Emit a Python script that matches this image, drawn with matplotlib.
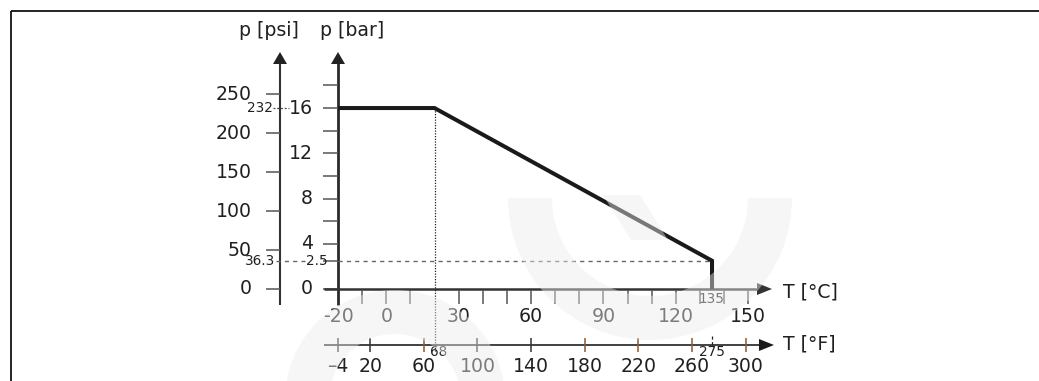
import matplotlib
matplotlib.use("Agg")
import matplotlib.pyplot as plt
from matplotlib.patches import Polygon, Wedge
from matplotlib.transforms import Affine2D

# chart data
curve_c = [-20, 20, 135, 135]
curve_bar = [16, 16, 2.5, 0]
bar_ticks = [0, 2.5, 4, 6, 8, 10, 12, 14, 16, 18]
bar_labels = [0, 4, 8, 12, 16]
psi_ticks = [0, 50, 100, 150, 200, 250]
c_ticks = [-10, 0, 10, 30, 40, 50, 60, 70, 80, 90, 100, 110, 120, 130, 140, 150]
c_labels = [-20, 0, 30, 60, 90, 120, 150]
f_ticks = [-4, 20, 60, 100, 140, 180, 220, 260, 300]
f_brown = [60, 180, 220, 260, 300]
knee_c, knee_f = 20, 68
max_c, max_f = 135, 275
max_bar, max_psi = 16, 232
min_bar, min_psi = 2.5, 36.3
PSI_PER_BAR = 14.5038

W, H = 1039, 381
PX_PER_C = 2.413
PX_PER_BAR = 11.31
C0_PX, BAR0_PY = 338, 289

TXT = "#231f20"
GRID = "#555555"
BROWN = "#8c5a32"
BIG, SMALL = 13.6, 9.8


def cx(px):
    return -20 + (px - C0_PX) / PX_PER_C


def by(py):
    return (BAR0_PY - py) / PX_PER_BAR


def f2c(f):
    return (f - 32) / 1.8


fig = plt.figure(figsize=(W / 100, H / 100), dpi=100)
ax = fig.add_axes([0, 0, 1, 1])
ax.set_xlim(cx(0), cx(W))
ax.set_ylim(by(H), by(0))
ax.axis("off")
plt.rcParams["font.family"] = "DejaVu Sans"


def hline(y, x0, x1, **kw):
    ax.plot([x0, x1], [y, y], solid_capstyle="butt", **kw)


def vline(x, y0, y1, **kw):
    ax.plot([x, x], [y0, y1], solid_capstyle="butt", **kw)


def tri(points, color):
    ax.add_patch(Polygon([(cx(a), by(b)) for a, b in points], closed=True,
                         facecolor=color, edgecolor="none", zorder=4))


# frame
hline(by(11), cx(11), cx(W), color="black", lw=1.2)
vline(cx(11), by(11), by(H), color="black", lw=1.2)

# psi axis
vline(cx(280), by(305), by(60), color="#333333", lw=1.5)
tri([(280, 52), (273, 64), (287, 64)], "#222222")
for p in psi_ticks:
    hline(p / PSI_PER_BAR, cx(266), cx(280), color=GRID, lw=1.1)
    ax.text(cx(252), p / PSI_PER_BAR, str(p), ha="right", va="center",
            fontsize=BIG, color=TXT)
ax.text(cx(299), by(31), "p [psi]", ha="right", va="center", fontsize=BIG, color=TXT)

# bar axis
vline(cx(338), by(305), by(60), color="#2a2a2a", lw=2.0)
tri([(338, 52), (331, 64), (345, 64)], "#222222")
for b in bar_ticks:
    hline(b, cx(323), cx(338), color=GRID, lw=1.1)
for b in bar_labels:
    ax.text(cx(313), b, str(b), ha="right", va="center", fontsize=BIG, color=TXT)
ax.text(cx(320), by(31), "p [bar]", ha="left", va="center", fontsize=BIG, color=TXT)

# reference values
ax.text(cx(273), max_bar, str(max_psi), ha="right", va="center", fontsize=SMALL, color=TXT)
hline(max_bar, cx(273), cx(289), color="#444444", lw=0.9, ls=(0, (1.5, 1.5)))
ax.text(cx(275), min_psi / PSI_PER_BAR, str(min_psi), ha="right", va="center",
        fontsize=SMALL, color=TXT)
ax.text(cx(328), min_bar, str(min_bar), ha="right", va="center", fontsize=SMALL, color=TXT)
hline(min_bar, cx(276), cx(305), color="#666666", lw=1.0, ls=(0, (3, 3)))
hline(min_bar, cx(338), max_c, color="#666666", lw=1.0, ls=(0, (3, 3)))

# temperature axis (C)
hline(0, cx(324), cx(760), color="#333333", lw=1.8)
tri([(772, 289), (757, 283), (757, 295)], "#333333")
for c in c_ticks:
    vline(c, by(290), by(304), color=GRID, lw=1.1)
for c in c_labels:
    ax.text(c, by(317), str(c), ha="center", va="center", fontsize=BIG, color=TXT)
ax.text(max_c, by(299), str(max_c), ha="center", va="center", fontsize=SMALL, color=TXT)
ax.text(cx(783), by(292), "T [°C]", ha="left", va="center", fontsize=BIG, color=TXT)

# temperature axis (F)
hline(by(345), cx(324), cx(762), color="#333333", lw=1.3)
tri([(774, 345), (759, 339), (759, 351)], "#1a1a1a")
for f in f_ticks:
    col = BROWN if f in f_brown else "#333333"
    vline(f2c(f), by(338), by(352), color=col, lw=1.1)
    label = "\u2013" + str(-f) if f < 0 else str(f)
    ax.text(f2c(f), by(366), label, ha="center", va="center", fontsize=BIG, color=TXT)
ax.text(f2c(knee_f) + 1.5, by(352), str(knee_f), ha="center", va="center",
        fontsize=SMALL, color=TXT)
ax.text(f2c(max_f), by(352), str(max_f), ha="center", va="center",
        fontsize=SMALL, color=TXT)
vline(f2c(max_f), by(336), by(346), color="#222222", lw=0.9, ls=(0, (2.5, 2)))
ax.text(cx(783), by(344), "T [°F]", ha="left", va="center", fontsize=BIG, color=TXT)

# knee guide line
vline(knee_c, max_bar, by(351), color="#222222", lw=0.9, ls=(0, (1, 1.2)))

# curve
ax.plot(curve_c, curve_bar, color="#1a1a1a", lw=2.9, solid_joinstyle="miter",
        solid_capstyle="butt", zorder=3)

# faint watermark on top
pix = Affine2D().scale(1 / W, -1 / H).translate(0, 1) + fig.transFigure
wm = dict(facecolor="#ececec", edgecolor="none", alpha=0.45, zorder=10, transform=pix)
fig.add_artist(Wedge((650, 198), 142, 0, 180, width=44, **wm))
fig.add_artist(Wedge((395, 400), 110, 180, 360, width=44, **wm))
fig.add_artist(Polygon([(603, 195), (640, 195), (668, 240), (631, 240)], closed=True, **wm))

fig.savefig("out.png", dpi=100)
